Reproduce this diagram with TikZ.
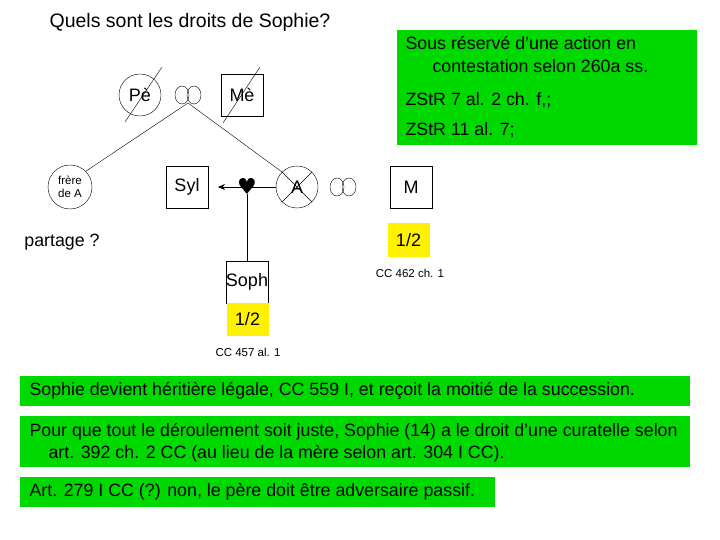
\documentclass[tikz,border=0pt]{standalone}
\usepackage{fontspec}
\setmainfont{Liberation Sans}
\newfontfamily\dv{DejaVu Sans}
\usetikzlibrary{arrows.meta}
\begin{document}
\begin{tikzpicture}[x=1pt,y=-1pt,
  sq/.style={draw,minimum size=42pt,inner sep=0pt,font=\fontsize{18}{20}\selectfont},
  pc/.style={draw,circle,minimum size=42pt,inner sep=0pt,font=\fontsize{18}{20}\selectfont},
  yel/.style={fill=yellow,minimum width=42pt,minimum height=33pt,inner sep=0pt,font=\fontsize{18}{20}\selectfont},
  gr/.style={fill=green!85!black,anchor=north west,inner sep=0pt},
  txt/.style={font=\fontsize{17.8}{20}\selectfont},
  small/.style={font=\fontsize{11.5}{12}\selectfont}]
\useasboundingbox (0,0) rectangle (720,540);
\node[font=\fontsize{19.5}{22}\selectfont] (title) at (190,22) {Quels sont les droits de Sophie?};
\node[gr,minimum width=300pt,minimum height=115pt] (g) at (397,30) {};
\node[txt,anchor=west] (g1) at (402,43) {Sous réservé d’une action en};
\node[txt,anchor=west] (g2) at (429,66) {contestation selon 260a ss.};
\node[txt,anchor=west] (g3) at (402,100) {ZStR 7 al. 2 ch. f,;};
\node[txt,anchor=west] (g4) at (402,130) {ZStR 11 al. 7;};
% top generation
\node[pc] (pe) at (140,95) {Pè};
\node[sq] (me) at (242,95) {Mè};
\draw (182,95) circle[x radius=7,y radius=9];
\draw (194,95) circle[x radius=7,y radius=9];
\draw (125,122) -- (162,67);
\draw (223,123) -- (260,67);
% second generation
\node[pc,font=\fontsize{11.5}{13}\selectfont,align=center,minimum size=44pt] (fr) at (70,187) {frère\\de A};
\node[sq] (syl) at (187,187) {Syl};
\node[pc] (a) at (297,187) {A};
\draw (a.north west) -- (a.south east) (a.north east) -- (a.south west);
\node[sq] (m) at (411,187) {M};
\draw (337,187) circle[x radius=7,y radius=9];
\draw (349,187) circle[x radius=7,y radius=9];
\coordinate (rr) at (188,103);
\draw (rr) -- (fr.north east);
\draw (rr) -- (a.north west);
\draw[-{Stealth[length=7pt,width=6pt]},line width=0.8pt] (a.west) -- (218,187);
\node[inner sep=0pt,font=\dv\fontsize{22}{22}\selectfont] (hx) at (247,186) {♥};
\node[sq] (soph) at (247,282) {Soph};
\draw (hx.south) -- (soph.north);
\node[yel] (y1) at (247.5,319.5) {1/2};
\node[small] (c1) at (248,352) {CC 457 al. 1};
\node[yel] (y2) at (408.5,240) {1/2};
\node[small] (c2) at (410,273) {CC 462 ch. 1};
\node[txt] (part) at (62,242) {partage ?};
% bottom boxes
\node[gr,minimum width=670pt,minimum height=30pt] (b1) at (20,376) {};
\node[txt,anchor=west] at (26,391) {Sophie devient héritière légale, CC 559 I, et reçoit la moitié de la succession.};
\node[gr,minimum width=670pt,minimum height=51pt] (b2) at (20,416) {};
\node[txt,anchor=west] at (26,432) {Pour que tout le déroulement soit juste, Sophie (14) a le droit d’une curatelle selon};
\node[txt,anchor=west] at (45,454) {art. 392 ch. 2 CC (au lieu de la mère selon art. 304 I CC).};
\node[gr,minimum width=475pt,minimum height=30pt] (b3) at (20,477) {};
\node[txt,anchor=west] at (26,492) {Art. 279 I CC (?) non, le père doit être adversaire passif.};
\end{tikzpicture}
\end{document}
